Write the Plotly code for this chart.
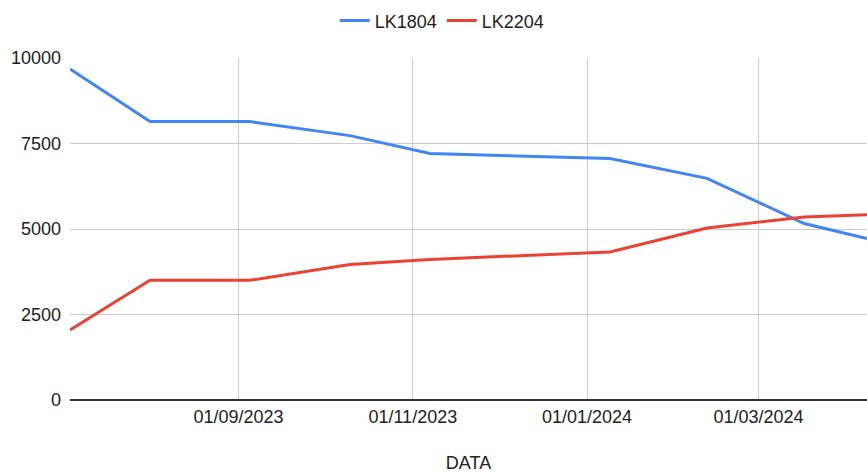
import plotly.graph_objects as go

dates = ["2023-07-04", "2023-08-01", "2023-09-05", "2023-10-10", "2023-11-07",
         "2024-01-09", "2024-02-12", "2024-03-17", "2024-04-08"]
lk1804 = [9680, 8140, 8140, 7730, 7210, 7060, 6480, 5160, 4720]
lk2204 = [2050, 3500, 3500, 3960, 4110, 4330, 5030, 5350, 5420]

x_tickvals = ["2023-09-01", "2023-11-01", "2024-01-01", "2024-03-01"]
x_ticktext = ["01/09/2023", "01/11/2023", "01/01/2024", "01/03/2024"]
y_tickvals = [0, 2500, 5000, 7500, 10000]

FONT = "Liberation Sans, Arial, sans-serif"
TXT = "#222222"

fig = go.Figure()
fig.add_trace(go.Scatter(x=dates, y=lk1804, mode="lines", name="LK1804",
                         line=dict(color="#4285F4", width=3)))
fig.add_trace(go.Scatter(x=dates, y=lk2204, mode="lines", name="LK2204",
                         line=dict(color="#EA4335", width=3)))

fig.update_layout(
    width=867, height=473,
    margin=dict(l=70, r=0, t=58, b=73),
    paper_bgcolor="white", plot_bgcolor="white",
    font=dict(family=FONT, size=18, color=TXT),
    showlegend=True,
    legend=dict(orientation="h", x=0.467, xanchor="center", y=0.995, yanchor="top",
                yref="container", font=dict(size=18, color=TXT),
                itemwidth=30),
    xaxis=dict(
        range=[dates[0], dates[-1]],
        tickvals=x_tickvals, ticktext=x_ticktext,
        showgrid=True, gridcolor="#cccccc", gridwidth=1,
        zeroline=False, showline=False, ticks="", ticklabelstandoff=4,
        title=dict(text="DATA", font=dict(size=18, color=TXT), standoff=30),
        automargin=False,
    ),
    yaxis=dict(
        range=[0, 10000],
        tickvals=y_tickvals, tickformat="d",
        showgrid=True, gridcolor="#cccccc", gridwidth=1,
        zeroline=True, zerolinecolor="#333333", zerolinewidth=2,
        showline=False, ticks="", ticklabelstandoff=8,
        automargin=False,
    ),
)

fig.write_html("out.html",
               config={"displayModeBar": False},
               post_script="document.body.style.margin='0';document.body.style.overflow='hidden';")
